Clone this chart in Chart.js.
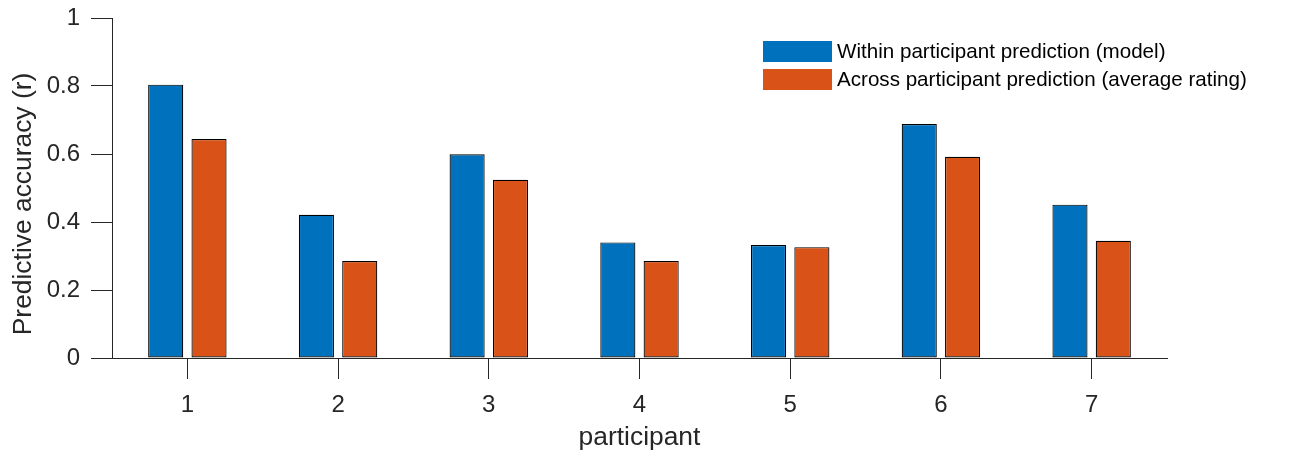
<!DOCTYPE html>
<html>
<head>
<meta charset="utf-8">
<script src="https://cdn.jsdelivr.net/npm/chart.js@4/dist/chart.umd.min.js"></script>
<style>
  html, body { margin: 0; padding: 0; background: #fff; }
  #wrap { width: 1298px; height: 458px; }
</style>
</head>
<body>
<div id="wrap"><canvas id="accChart" width="1298" height="458"></canvas></div>
<script>
const participants = ['1', '2', '3', '4', '5', '6', '7'];
const withinModel = [0.804, 0.421, 0.599, 0.340, 0.332, 0.688, 0.451];
const acrossRating = [0.644, 0.285, 0.524, 0.285, 0.326, 0.592, 0.345];
const yTickLabels = ['0', '0.2', '0.4', '0.6', '0.8', '1'];
const yTitle = 'Predictive accuracy (r)';

const FONT = '"Liberation Sans", Arial, Helvetica, sans-serif';
const AX = '#262626';

// legend drawn as a stacked box list in the top right, like the matlab one
const legendBox = {
  id: 'legendBox',
  afterDraw(chart) {
    const ctx = chart.ctx;
    ctx.save();
    ctx.font = '20.6px ' + FONT;
    ctx.textBaseline = 'middle';
    ctx.textAlign = 'left';
    chart.data.datasets.forEach((ds, i) => {
      const y = 41 + i * 28;
      ctx.fillStyle = ds.backgroundColor;
      ctx.fillRect(763, y, 69, 21);
      ctx.fillStyle = '#000';
      ctx.fillText(ds.label, 837, y + 11);
    });
    ctx.restore();
  }
};

// matlab puts the y label a bit below the middle, so draw it by hand
const yTitlePlugin = {
  id: 'yTitlePlugin',
  afterDraw(chart) {
    const ctx = chart.ctx;
    const area = chart.chartArea;
    ctx.save();
    ctx.font = '26.4px ' + FONT;
    ctx.fillStyle = AX;
    ctx.textAlign = 'center';
    ctx.textBaseline = 'middle';
    ctx.translate(24, (area.top + area.bottom) / 2 + 16);
    ctx.rotate(-Math.PI / 2);
    ctx.fillText(yTitle, 0, 0);
    ctx.restore();
  }
};

const ctx = document.getElementById('accChart').getContext('2d');
new Chart(ctx, {
  type: 'bar',
  data: {
    labels: participants,
    datasets: [
      {
        label: 'Within participant prediction (model)',
        data: withinModel,
        backgroundColor: '#0072BD',
        borderColor: '#000',
        borderWidth: 1.2,
        borderSkipped: false,
      },
      {
        label: 'Across participant prediction (average rating)',
        data: acrossRating,
        backgroundColor: '#D95319',
        borderColor: '#000',
        borderWidth: 1.2,
        borderSkipped: false,
      },
    ],
  },
  options: {
    responsive: false,
    animation: false,
    layout: { padding: { top: 18, right: 131, left: 0, bottom: 0 } },
    datasets: {
      bar: { categoryPercentage: 0.575, barPercentage: 0.81 },
    },
    scales: {
      x: {
        grid: {
          display: true,
          drawOnChartArea: false,
          drawTicks: true,
          tickLength: 21,
          offset: false,
          color: AX,
        },
        border: { display: true, color: AX, width: 1 },
        ticks: { color: AX, padding: 12, font: { family: FONT, size: 24 } },
        title: {
          display: true,
          text: 'participant',
          color: AX,
          padding: { top: 0, bottom: 4 },
          font: { family: FONT, size: 26.4 },
        },
        afterFit(scale) { scale.height = 100; },
      },
      y: {
        min: 0,
        max: 1,
        grid: {
          display: true,
          drawOnChartArea: false,
          drawTicks: true,
          tickLength: 21,
          color: AX,
        },
        border: { display: true, color: AX, width: 1 },
        ticks: {
          stepSize: 0.2,
          color: AX,
          padding: 11,
          font: { family: FONT, size: 24 },
          callback: (v, i) => yTickLabels[i],
        },
        title: { display: false },
        afterFit(scale) {
          scale.width = 112;
          scale.paddingTop = 0;
          scale.paddingBottom = 0;
        },
      },
    },
    plugins: {
      legend: { display: false },
      tooltip: { enabled: false },
    },
  },
  plugins: [legendBox, yTitlePlugin],
});
</script>
</body>
</html>
